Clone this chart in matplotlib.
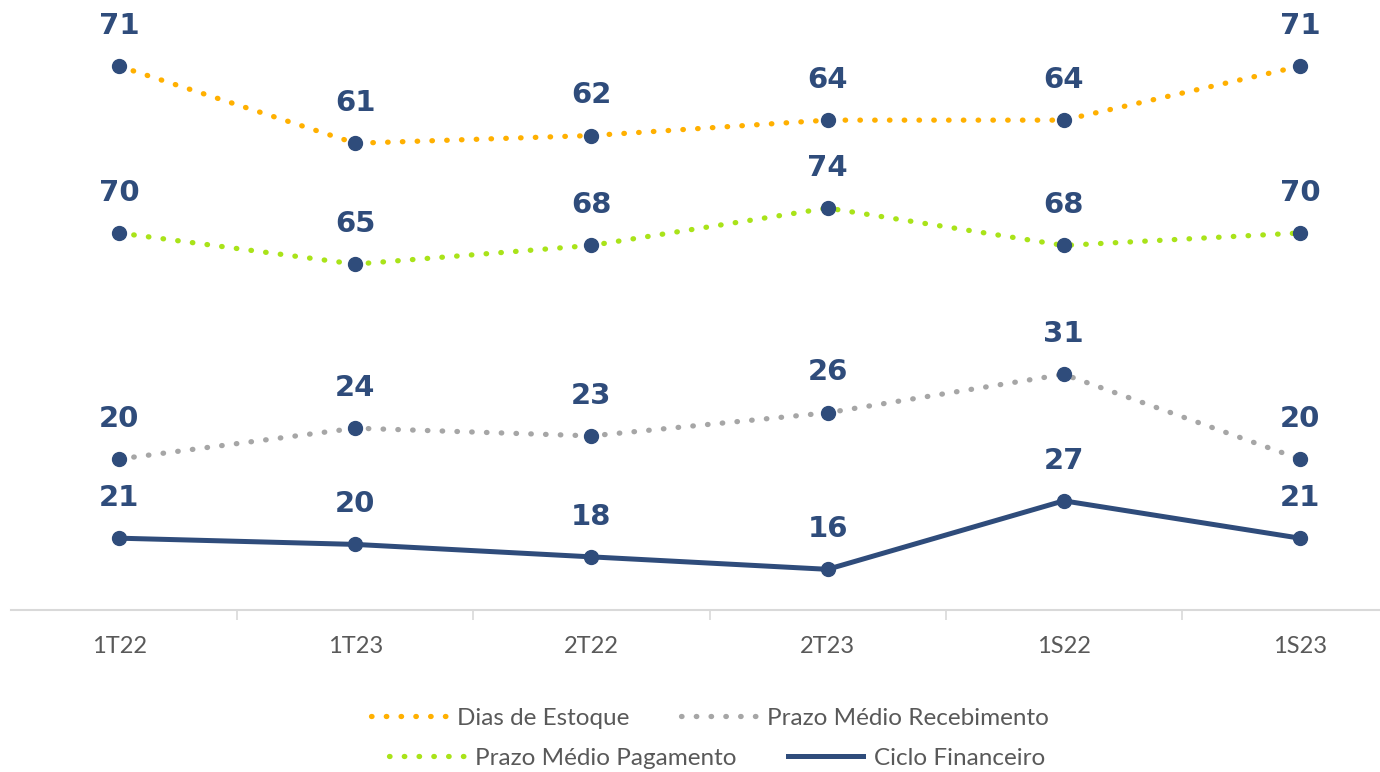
import matplotlib
matplotlib.use("Agg")
import matplotlib.pyplot as plt
from matplotlib.lines import Line2D

categories = ["1T22", "1T23", "2T22", "2T23", "1S22", "1S23"]
dias_estoque = [71, 61, 62, 64, 64, 71]
prazo_recebimento = [20, 24, 23, 26, 31, 20]
prazo_pagamento = [70, 65, 68, 74, 68, 70]
ciclo_financeiro = [21, 20, 18, 16, 27, 21]

C_ORANGE = "#FFB000"
C_GREEN = "#A9E319"
C_GRAY = "#A6A6A6"
C_NAVY = "#2F4C7B"
C_TEXT = "#595959"

W, H, DPI = 1380, 772, 100
fig = plt.figure(figsize=(W / DPI, H / DPI), dpi=DPI)
fig.patch.set_facecolor("white")

x0, x1 = 1, 1418
ytop, ybot = 0, 610
ax = fig.add_axes([x0 / W, 1 - ybot / H, (x1 - x0) / W, (ybot - ytop) / H])
ax2 = ax.twinx()

x = list(range(len(categories)))
ax.set_xlim(-0.5, 5.5)
ax.set_ylim(0.39, 79.6)
ax2.set_ylim(9.47, 107.4)

dot_style = (0, (0.1, 2.7))
lw_dot = 3.8

def draw(axis, vals, color, ls, lw, z):
    axis.plot(x, vals, color=color, linestyle=ls, lw=lw,
              dash_capstyle="round", solid_capstyle="round", zorder=z)
    axis.plot(x, vals, linestyle="none", marker="o", ms=10,
              mfc=C_NAVY, mec=C_NAVY, zorder=z + 1)
    for xi, v in zip(x, vals):
        axis.annotate(str(v), (xi, v), xytext=(0, 29), textcoords="offset points",
                      ha="center", va="center", fontsize=21, fontweight="heavy",
                      family=["DejaVu Sans"], color=C_NAVY, zorder=z + 2)

draw(ax, dias_estoque, C_ORANGE, dot_style, lw_dot, 3)
draw(ax, prazo_recebimento, C_GRAY, dot_style, lw_dot, 3)
draw(ax2, prazo_pagamento, C_GREEN, dot_style, lw_dot, 3)
draw(ax2, ciclo_financeiro, C_NAVY, "-", 3.6, 6)

for a in (ax, ax2):
    for s in ("top", "left", "right"):
        a.spines[s].set_visible(False)
    a.set_yticks([])
    a.patch.set_visible(False)
ax2.spines["bottom"].set_visible(False)
ax.spines["bottom"].set_color("#D9D9D9")
ax.spines["bottom"].set_linewidth(1.5)
ax.spines["bottom"].set_bounds(-0.457, 5.5)

ax.set_xticks([0.5, 1.5, 2.5, 3.5, 4.5])
ax.set_xticklabels([])
ax.tick_params(axis="x", which="major", length=7, width=1.2, color="#D9D9D9", direction="out")
ax.set_xticks(x, minor=True)
ax.set_xticklabels(categories, minor=True, fontsize=17, color=C_TEXT, family=["Lato", "DejaVu Sans"])
ax.tick_params(axis="x", which="minor", length=0, pad=19)

def h_dot(c):
    return Line2D([], [], color=c, linestyle=dot_style, lw=lw_dot, dash_capstyle="round")

h_ciclo = Line2D([], [], color=C_NAVY, lw=3.6)

common = dict(ncol=2, frameon=False, handlelength=3.1, handletextpad=0.45, columnspacing=2.1,
              prop={"family": ["Lato", "DejaVu Sans"], "size": 17.5}, labelcolor=C_TEXT, loc="center")
leg1 = fig.legend([h_dot(C_ORANGE), h_dot(C_GRAY)], ["Dias de Estoque", "Prazo Médio Recebimento"],
                  bbox_to_anchor=(710 / W, 1 - 718 / H), **common)
leg2 = fig.legend([h_dot(C_GREEN), h_ciclo], ["Prazo Médio Pagamento", "Ciclo Financeiro"],
                  bbox_to_anchor=(717 / W, 1 - 758 / H), **common)

fig.savefig("out.png", dpi=DPI, facecolor="white")
